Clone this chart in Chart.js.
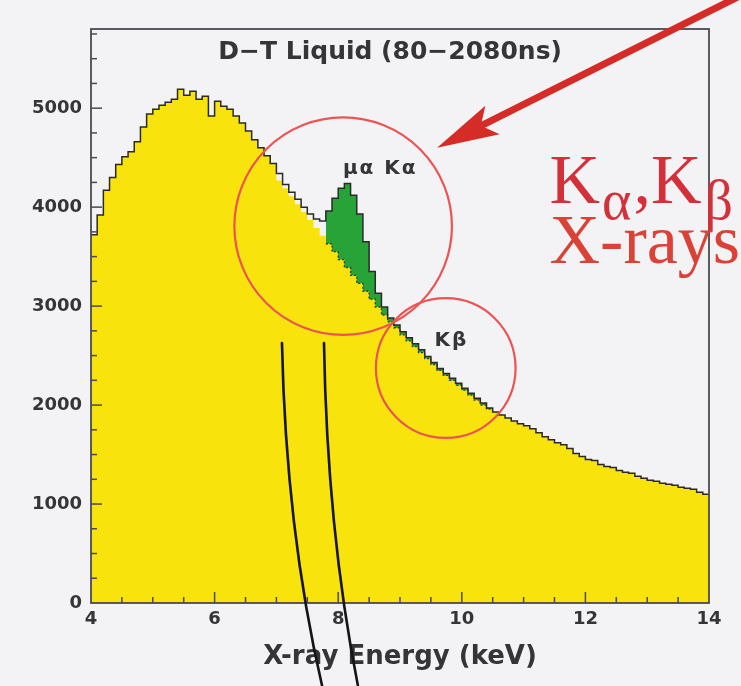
<!DOCTYPE html>
<html>
<head>
<meta charset="utf-8">
<script src="https://cdn.jsdelivr.net/npm/chart.js@4.4.1/dist/chart.umd.min.js"></script>
<style>
  html, body { margin: 0; padding: 0; background: #f3f3f5; }
  #wrap { width: 741px; height: 686px; position: relative; overflow: hidden; }
  canvas { display: block; }
</style>
</head>
<body>
<div id="wrap"><canvas id="spectrum" width="741" height="686"></canvas></div>
<script>
// Histogram binning (keV)
const binStart = 4.0;
const binWidth = 0.1;

// Measured counts per 0.1 keV bin, 4.0 - 14.0 keV
const counts = [
  3720, 3920, 4170, 4300, 4430, 4510, 4560, 4660, 4810, 4940,
  4990, 5030, 5060, 5090, 5190, 5130, 5170, 5090, 5120, 4920,
  5070, 5020, 4990, 4920, 4850, 4770, 4680, 4600, 4520, 4440,
  4340, 4230, 4150, 4080, 4000, 3930, 3880, 3860, 3960, 4090,
  4190, 4240, 4120, 3930, 3650, 3350, 3130, 2990, 2880, 2810,
  2740, 2680, 2620, 2560, 2490, 2430, 2370, 2320, 2270, 2220,
  2170, 2120, 2070, 2020, 1970, 1930, 1900, 1870, 1840, 1810,
  1790, 1760, 1720, 1680, 1650, 1620, 1600, 1560, 1510, 1480,
  1450, 1440, 1400, 1380, 1370, 1340, 1320, 1310, 1280, 1260,
  1240, 1230, 1210, 1200, 1190, 1170, 1160, 1150, 1120, 1100
];

// Background fit under the muonic X-ray lines, bins from 7.0 keV
const fitStart = 7.0;
const fitCounts = [
  4270, 4190, 4110, 4030, 3950, 3870, 3790, 3710, 3630, 3550,
  3470, 3390, 3310, 3230, 3150, 3070, 2990, 2910, 2840, 2780,
  2710, 2650, 2590, 2530, 2470, 2410, 2350, 2300, 2250, 2200,
  2150, 2100, 2050, 2000, 1960
];

// Energy window of the K-line excess (green)
const peakFrom = 7.8;
const peakTo = 10.5;

// Axes
const xTickLabels = [4, 6, 8, 10, 12, 14];
const yTickLabels = [0, 1000, 2000, 3000, 4000, 5000];
const xMinorStep = 0.5;
const yMinorStep = 250;
const xRange = [4, 14];
const yRange = [0, 5800];
const plotTitle = 'D\u2212T Liquid (80\u22122080ns)';
const xAxisTitle = 'X-ray Energy (keV)';

// Annotations, placed in data units (keV, counts)
const titleAt = { e: 8.84, n: 5560 };
const lineLabels = [
  { text: '\u03bc\u03b1 K\u03b1', e: 8.68, n: 4390 },
  { text: 'K\u03b2', e: 9.83, n: 2650 }
];
const circles = [
  { e: 8.08, n: 3808, r: 1.76 },
  { e: 9.74, n: 2374, r: 1.13 }
];
const arrow = { from: { e: 14.55, n: 6150 }, to: { e: 9.60, n: 4600 } };
const calloutAt = { e: 11.42, n1: 4040, n2: 3440 };
// Pen strokes: start, bend, end
const strokes = [
  [{ e: 7.09, n: 2626 }, { e: 7.155, n: 737 }, { e: 7.74, n: -838 }],
  [{ e: 7.77, n: 2626 }, { e: 7.82, n: 737 }, { e: 8.32, n: -838 }]
];

const FONT = 'DejaVu Sans';
const TEXT = '#353538';

function edge(e) { return Math.round(e * 100) / 100; }
function binIndex(e, start) { return Math.round((e - start) / binWidth); }

// Step-histogram points: one point per bin low edge plus the closing edge;
// drawn with stepped 'before' so each value spans [low edge, next edge]
function stepPoints(values, start) {
  const pts = values.map((v, i) => ({ x: edge(start + i * binWidth), y: v }));
  pts.push({ x: edge(start + values.length * binWidth), y: values[values.length - 1] });
  return pts;
}

// Tick positions every minor step across the axis range
function tickValues(range, step) {
  const out = [];
  const n = Math.floor((range[1] - range[0]) / step + 1e-9);
  for (let i = 0; i <= n; i++) out.push({ value: edge(range[0] + i * step) });
  return out;
}

// Yellow area: background fit where it exists, data elsewhere
const yellowTop = counts.map((c, i) => {
  const k = binIndex(binStart + i * binWidth, fitStart);
  return (k >= 0 && k < fitCounts.length) ? fitCounts[k] : c;
});
const peakCounts = counts.slice(binIndex(peakFrom, binStart), binIndex(peakTo, binStart));
const peakFit = fitCounts.slice(binIndex(peakFrom, fitStart), binIndex(peakTo, fitStart));

const innerTicks = {
  id: 'innerTicks',
  afterDatasetsDraw(chart) {
    const { ctx, chartArea: a, scales: { x, y } } = chart;
    ctx.save();
    ctx.strokeStyle = '#4a4a52';
    ctx.lineWidth = 1.5;
    x.ticks.forEach(t => {
      const v = t.value;
      if (v <= xRange[0] || v >= xRange[1]) return;
      const len = xTickLabels.includes(v) ? 11 : 6;
      const px = x.getPixelForValue(v);
      ctx.beginPath(); ctx.moveTo(px, a.bottom); ctx.lineTo(px, a.bottom - len); ctx.stroke();
    });
    y.ticks.forEach(t => {
      const v = t.value;
      if (v <= yRange[0]) return;
      const len = yTickLabels.includes(v) ? 11 : 6;
      const py = y.getPixelForValue(v);
      ctx.beginPath(); ctx.moveTo(a.left, py); ctx.lineTo(a.left + len, py); ctx.stroke();
    });
    ctx.lineWidth = 1.8;
    ctx.strokeRect(a.left, a.top, a.right - a.left, a.bottom - a.top);
    ctx.restore();
  }
};

const annotations = {
  id: 'annotations',
  afterDraw(chart) {
    const { ctx, scales: { x, y } } = chart;
    const P = (e, n) => [x.getPixelForValue(e), y.getPixelForValue(n)];
    const pxPerKeV = x.getPixelForValue(1 + xRange[0]) - x.getPixelForValue(xRange[0]);
    ctx.save();

    // Title inside the frame
    ctx.fillStyle = TEXT;
    ctx.font = 'bold 25px "' + FONT + '"';
    ctx.textAlign = 'center';
    ctx.textBaseline = 'middle';
    const [tx, ty] = P(titleAt.e, titleAt.n);
    ctx.fillText(plotTitle, tx, ty);

    // Line labels
    ctx.font = 'bold 20px "' + FONT + '"';
    ctx.letterSpacing = '2px';
    lineLabels.forEach(l => {
      const [lx, ly] = P(l.e, l.n);
      ctx.fillText(l.text, lx, ly);
    });
    ctx.letterSpacing = '0px';

    // Circles around the K lines
    ctx.strokeStyle = 'rgb(236,84,84)';
    ctx.lineWidth = 2.2;
    circles.forEach(c => {
      const [cx, cy] = P(c.e, c.n);
      ctx.beginPath(); ctx.arc(cx, cy, c.r * pxPerKeV, 0, Math.PI * 2); ctx.stroke();
    });

    // Pen strokes
    ctx.strokeStyle = '#151515';
    ctx.lineWidth = 2.6;
    ctx.lineCap = 'round';
    strokes.forEach(s => {
      const [p0, c, p1] = s.map(q => P(q.e, q.n));
      ctx.beginPath();
      ctx.moveTo(p0[0], p0[1]);
      ctx.quadraticCurveTo(c[0], c[1], p1[0], p1[1]);
      ctx.stroke();
    });

    // Red arrow
    const [ax0, ay0] = P(arrow.from.e, arrow.from.n);
    const [ax1, ay1] = P(arrow.to.e, arrow.to.n);
    const ang = Math.atan2(ay1 - ay0, ax1 - ax0);
    const headLen = 62, headHalf = 16, notch = 13;
    const cosA = Math.cos(ang), sinA = Math.sin(ang);
    const bx = ax1 - headLen * cosA, by = ay1 - headLen * sinA;
    ctx.strokeStyle = 'rgb(214,44,40)';
    ctx.fillStyle = 'rgb(214,44,40)';
    ctx.lineWidth = 7;
    ctx.lineCap = 'butt';
    ctx.beginPath(); ctx.moveTo(ax0, ay0);
    ctx.lineTo(bx + notch * cosA, by + notch * sinA); ctx.stroke();
    const nx = -sinA, ny = cosA;
    ctx.beginPath();
    ctx.moveTo(ax1, ay1);
    ctx.lineTo(bx + nx * headHalf, by + ny * headHalf);
    ctx.lineTo(bx + notch * cosA, by + notch * sinA);
    ctx.lineTo(bx - nx * headHalf, by - ny * headHalf);
    ctx.closePath();
    ctx.fill();

    // Callout text
    const [kx, k1y] = P(calloutAt.e, calloutAt.n1);
    const [, k2y] = P(calloutAt.e, calloutAt.n2);
    const big = '70px "Liberation Serif"', sub = '56px "Liberation Serif"';
    ctx.textAlign = 'left';
    ctx.textBaseline = 'alphabetic';
    ctx.fillStyle = 'rgb(212,48,58)';
    let cx = kx;
    const parts = [['K', big, 0, 0], ['\u03b1', sub, 16, 2], [',', big, 0, 2], ['K', big, 0, 0], ['\u03b2', sub, 16, 3]];
    parts.forEach(([t, f, dy, gap]) => {
      ctx.font = f;
      cx += gap;
      ctx.fillText(t, cx, k1y + dy);
      cx += ctx.measureText(t).width;
    });
    ctx.fillStyle = 'rgb(218,66,56)';
    ctx.font = big;
    ctx.fillText('X-rays', kx, k2y);

    ctx.restore();
  }
};

new Chart(document.getElementById('spectrum'), {
  type: 'line',
  data: {
    datasets: [
      {
        label: 'Data',
        data: stepPoints(counts, binStart),
        stepped: 'before',
        borderColor: '#2a2a2a',
        borderWidth: 1.5,
        pointRadius: 0,
        fill: false,
        order: 0
      },
      {
        label: 'Fit',
        data: stepPoints(peakFit, peakFrom),
        stepped: 'before',
        borderColor: '#2d3b22',
        borderWidth: 1.3,
        borderDash: [2, 2],
        pointRadius: 0,
        fill: false,
        order: 1
      },
      {
        label: 'Background',
        data: stepPoints(yellowTop, binStart),
        stepped: 'before',
        borderColor: 'rgba(0,0,0,0)',
        borderWidth: 0,
        backgroundColor: '#f8e40c',
        pointRadius: 0,
        fill: 'origin',
        order: 2
      },
      {
        label: 'K lines',
        data: stepPoints(peakCounts, peakFrom),
        stepped: 'before',
        borderColor: 'rgba(0,0,0,0)',
        borderWidth: 0,
        backgroundColor: '#27a338',
        pointRadius: 0,
        fill: 'origin',
        order: 3
      }
    ]
  },
  options: {
    responsive: false,
    animation: false,
    events: [],
    layout: { padding: { top: 29, right: 32, left: 0, bottom: 0 } },
    plugins: {
      legend: { display: false },
      tooltip: { enabled: false },
      title: { display: false }
    },
    scales: {
      x: {
        type: 'linear',
        min: xRange[0],
        max: xRange[1],
        grid: { display: false, drawTicks: false },
        border: { display: false },
        afterBuildTicks(scale) { scale.ticks = tickValues(xRange, xMinorStep); },
        ticks: {
          autoSkip: false,
          maxRotation: 0,
          padding: 6,
          color: TEXT,
          font: { family: FONT, weight: 'bold', size: 18 },
          callback: v => xTickLabels.includes(v) ? String(v) : ''
        },
        title: {
          display: true,
          text: xAxisTitle,
          color: TEXT,
          font: { family: FONT, weight: 'bold', size: 26 },
          padding: { top: 4, bottom: 13 }
        },
        afterFit(scale) { scale.height = 83; }
      },
      y: {
        type: 'linear',
        min: yRange[0],
        max: yRange[1],
        grid: { display: false, drawTicks: false },
        border: { display: false },
        afterBuildTicks(scale) { scale.ticks = tickValues(yRange, yMinorStep); },
        ticks: {
          autoSkip: false,
          padding: 9,
          color: TEXT,
          font: { family: FONT, weight: 'bold', size: 18 },
          callback: v => yTickLabels.includes(v) ? String(v) : ''
        },
        afterFit(scale) { scale.width = 91; }
      }
    }
  },
  plugins: [innerTicks, annotations]
});
</script>
</body>
</html>
